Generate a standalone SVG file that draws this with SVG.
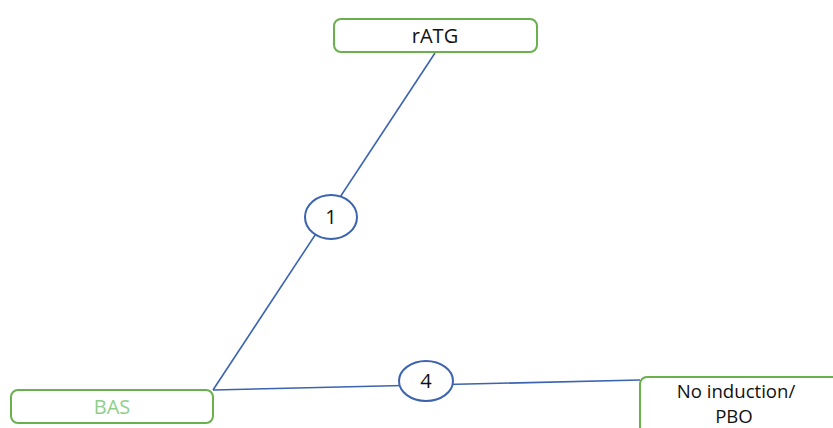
<svg xmlns="http://www.w3.org/2000/svg" width="833" height="428" viewBox="0 0 833 428">
<style>
.box{fill:#fff;stroke:#6ab04c;stroke-width:2}
.ln{stroke:#3b63b0;stroke-width:1.6;fill:none}
.el{fill:#fff;stroke:#3b63b0;stroke-width:2}
.t{font-family:"Open Sans","Noto Sans",sans-serif;font-size:20px;text-anchor:middle;fill:#111}
.s{font-size:18.6px}
</style>
<rect width="833" height="428" fill="#fff"/>
<g id="connectors">
<line class="ln" x1="435" y1="53" x2="213" y2="390"/>
<line class="ln" x1="213" y1="390" x2="640" y2="380"/>
</g>
<g id="rATG">
<rect class="box" x="334" y="19" width="203" height="33" rx="7"/>
<text class="t" x="435" y="43">rATG</text>
</g>
<g id="BAS">
<rect class="box" x="11" y="390" width="202" height="33" rx="7"/>
<text class="t" x="112" y="414" style="fill:#8fcf8c">BAS</text>
</g>
<g id="NoInduction">
<rect class="box" x="640" y="377" width="210" height="70" rx="7"/>
<text class="t s" x="736" y="397.5">No induction/</text>
<text class="t s" x="734" y="422.5">PBO</text>
</g>
<g id="label1">
<ellipse class="el" cx="331" cy="217" rx="26" ry="22"/>
<text class="t" x="331" y="224">1</text>
</g>
<g id="label4">
<ellipse class="el" cx="426" cy="381" rx="27" ry="20"/>
<text class="t" x="426" y="388">4</text>
</g>
</svg>
